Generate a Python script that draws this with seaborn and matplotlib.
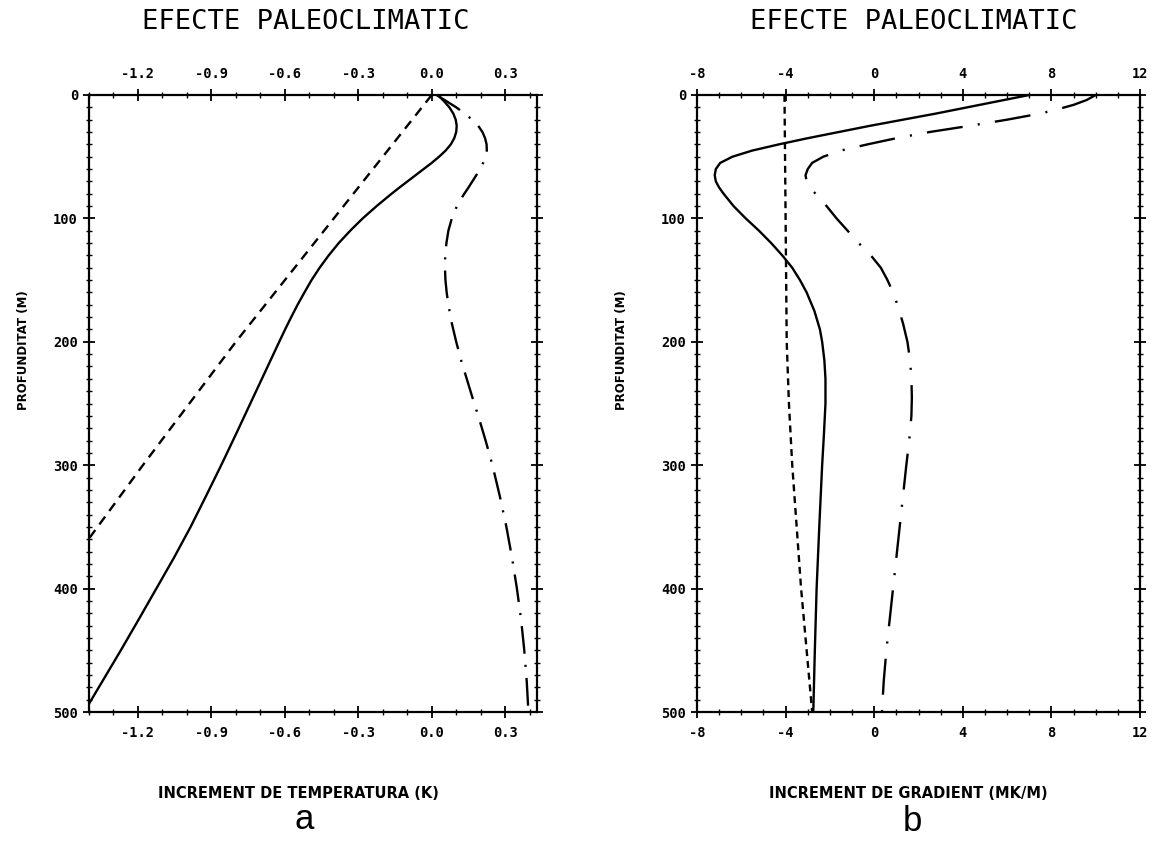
import matplotlib
matplotlib.use("Agg")
import matplotlib.pyplot as plt
import pandas as pd
import seaborn as sns
from matplotlib.font_manager import FontProperties
from matplotlib.ticker import FixedLocator, FixedFormatter, MultipleLocator

sns.set_theme(style="white")
plt.rcParams["font.family"] = ["DejaVu Sans Mono", "DejaVu Sans"]
plt.rcParams["axes.unicode_minus"] = False
plt.rcParams["lines.scale_dashes"] = False
for key in ["text.color", "axes.labelcolor", "xtick.color", "ytick.color", "axes.edgecolor"]:
    plt.rcParams[key] = "black"

# ---- panel a: temperature increment (K) against depth (m) ----
depth_a_solid = [0, 5, 10, 15, 20, 25, 30, 35, 40, 45, 50, 55, 60, 65, 70, 75,
                 80, 90, 100, 110, 120, 130, 140, 150, 160, 170, 180, 190, 200,
                 225, 250, 275, 300, 325, 350, 375, 400, 425, 450, 475, 500]
temp_solid = [0.025, 0.05, 0.072, 0.088, 0.098, 0.102, 0.10, 0.092, 0.078,
              0.057, 0.03, 0.0, -0.033, -0.066, -0.099, -0.132, -0.164,
              -0.225, -0.282, -0.333, -0.38, -0.421, -0.458, -0.491, -0.52,
              -0.548, -0.574, -0.599, -0.623, -0.682, -0.741, -0.80, -0.86,
              -0.922, -0.985, -1.053, -1.125, -1.197, -1.27, -1.345, -1.42]

depth_a_dashed = [0, 100, 200, 300, 400, 500]
temp_dashed = [0.0, -0.40, -0.80, -1.18, -1.55, -1.88]

depth_a_dashdot = [0, 5, 10, 15, 20, 25, 30, 35, 40, 45, 50, 55, 60, 65, 70,
                   75, 80, 85, 90, 100, 110, 120, 130, 140, 150, 160, 170, 185,
                   200, 215, 230, 245, 260, 280, 300, 325, 350, 375, 400, 425,
                   450, 475, 500]
temp_dashdot = [0.02, 0.06, 0.10, 0.135, 0.165, 0.19, 0.207, 0.218, 0.224,
                0.225, 0.22, 0.21, 0.197, 0.182, 0.166, 0.15, 0.133, 0.117,
                0.103, 0.082, 0.068, 0.06, 0.055, 0.054, 0.056, 0.061, 0.068,
                0.082, 0.10, 0.12, 0.143, 0.166, 0.19, 0.22, 0.248, 0.278,
                0.305, 0.328, 0.348, 0.365, 0.378, 0.388, 0.395]

# ---- panel b: gradient increment (mK/m) against depth (m) ----
depth_b_solid = [0, 5, 10, 15, 20, 25, 30, 35, 40, 45, 50, 55, 60, 65, 70, 75,
                 80, 90, 100, 110, 120, 130, 140, 150, 160, 175, 190, 200, 215,
                 230, 250, 275, 300, 350, 400, 450, 500]
grad_solid = [7.0, 5.6, 4.2, 2.8, 1.3, -0.2, -1.6, -3.0, -4.3, -5.5, -6.4,
              -6.95, -7.15, -7.2, -7.15, -7.0, -6.8, -6.35, -5.8, -5.2, -4.65,
              -4.15, -3.7, -3.35, -3.05, -2.7, -2.45, -2.35, -2.25, -2.2, -2.2,
              -2.27, -2.35, -2.48, -2.6, -2.68, -2.75]

depth_b_dashed = [0, 100, 200, 250, 300, 350, 400, 450, 500]
grad_dashed = [-4.05, -4.0, -3.95, -3.85, -3.7, -3.5, -3.3, -3.05, -2.8]

depth_b_dashdot = [0, 4, 8, 12, 15, 20, 25, 30, 35, 40, 45, 50, 55, 60, 65, 70,
                   75, 80, 90, 100, 110, 120, 130, 140, 150, 160, 170, 185, 200,
                   215, 230, 245, 260, 280, 300, 325, 350, 375, 400, 425, 450,
                   475, 500]
grad_dashdot = [10.0, 9.6, 9.0, 8.2, 7.5, 6.0, 4.3, 2.5, 1.0, -0.3, -1.5,
                -2.3, -2.8, -3.0, -3.1, -3.05, -2.9, -2.65, -2.15, -1.7, -1.2,
                -0.7, -0.15, 0.3, 0.6, 0.85, 1.05, 1.3, 1.5, 1.62, 1.68, 1.7,
                1.68, 1.58, 1.45, 1.3, 1.15, 1.0, 0.85, 0.7, 0.55, 0.43, 0.35]

temp_ticks = [-1.2, -0.9, -0.6, -0.3, 0.0, 0.3]
temp_tick_labels = ["-1.2", "-0.9", "-0.6", "-0.3", "0.0", "0.3"]
grad_ticks = [-8, -4, 0, 4, 8, 12]
grad_tick_labels = ["-8", "-4", "0", "4", "8", "12"]
depth_ticks = [0, 100, 200, 300, 400, 500]
depth_tick_labels = ["0", "100", "200", "300", "400", "500"]

title_text = "EFECTE PALEOCLIMATIC"
depth_label = "PROFUNDITAT (M)"
temp_label = "INCREMENT DE TEMPERATURA (K)"
grad_label = "INCREMENT DE GRADIENT (MK/M)"


def long_frame(parts):
    frames = []
    for name, depth, vals in parts:
        frames.append(pd.DataFrame({"depth": depth, "value": vals, "profile": name}))
    return pd.concat(frames, ignore_index=True)


df_a = long_frame([("solid", depth_a_solid, temp_solid),
                   ("dashed", depth_a_dashed, temp_dashed),
                   ("dashdot", depth_a_dashdot, temp_dashdot)])
df_b = long_frame([("solid", depth_b_solid, grad_solid),
                   ("dashed", depth_b_dashed, grad_dashed),
                   ("dashdot", depth_b_dashdot, grad_dashdot)])

W, H = 1156, 841
fig = plt.figure(figsize=(W / 100, H / 100), dpi=100)
ax_a = fig.add_axes([89 / W, 1 - 712 / H, (537 - 89) / W, (712 - 95) / H])
ax_b = fig.add_axes([697 / W, 1 - 712 / H, (1140 - 697) / W, (712 - 95) / H])

dash_a = {"solid": "", "dashed": (7, 5), "dashdot": (20, 8, 1.5, 8)}
dash_b = {"solid": "", "dashed": (5, 3.5), "dashdot": (26, 11, 1.5, 11)}

for ax, df, dmap in [(ax_a, df_a, dash_a), (ax_b, df_b, dash_b)]:
    sns.lineplot(data=df, x="value", y="depth", style="profile",
                 style_order=["solid", "dashed", "dashdot"], dashes=dmap,
                 color="black", sort=False, estimator=None, legend=False,
                 linewidth=1.7, ax=ax)
    for ln in ax.lines:
        ln.set_solid_capstyle("round")
        ln.set_solid_joinstyle("round")
        ln.set_dash_capstyle("butt")

tick_fp = FontProperties(family="DejaVu Sans Mono", weight="bold", size=9.8)
lab_font = dict(family="DejaVu Sans", weight="bold", size=10.5)
ylab_font = dict(family="DejaVu Sans", weight="bold", size=8.5)
TOP, BOTTOM = 95, 712
SPAN = BOTTOM - TOP


def style_axes(ax, left, right, xticks, xlabels, xlim, xminor, xlabel,
               xlab_px, title_px, letter, letter_px, letter_base, ylab_px):
    width = right - left
    ax.set_xlim(*xlim)
    ax.set_ylim(500, 0)
    ax.xaxis.set_major_locator(FixedLocator(xticks))
    ax.xaxis.set_major_formatter(FixedFormatter(xlabels))
    ax.xaxis.set_minor_locator(MultipleLocator(xminor))
    ax.yaxis.set_major_locator(FixedLocator(depth_ticks))
    ax.yaxis.set_major_formatter(FixedFormatter(depth_tick_labels))
    ax.yaxis.set_minor_locator(MultipleLocator(10))
    ax.tick_params(which="both", direction="inout", top=True, right=True,
                   bottom=True, left=True, labeltop=True, labelbottom=True,
                   labelleft=True, labelright=False, color="black")
    ax.tick_params(which="major", length=8, width=1.3)
    ax.tick_params(which="minor", length=4, width=1.0)
    ax.tick_params(axis="x", which="major", pad=6)
    ax.tick_params(axis="y", which="major", pad=4)
    for t in ax.xaxis.get_major_ticks() + ax.yaxis.get_major_ticks():
        t.label1.set_fontproperties(tick_fp)
        t.label2.set_fontproperties(tick_fp)
    for sp in ax.spines.values():
        sp.set_color("black")
        sp.set_linewidth(1.6)
    ax.set_xlabel(xlabel, **lab_font)
    ax.xaxis.set_label_position("bottom")
    ax.xaxis.set_label_coords((xlab_px - left) / width, (BOTTOM - 786) / SPAN)
    ax.set_ylabel(depth_label, **ylab_font)
    ax.yaxis.set_label_coords((ylab_px - left) / width, (BOTTOM - 350) / SPAN)
    ax.text((title_px - left) / width, (BOTTOM - 22) / SPAN, title_text,
            transform=ax.transAxes, ha="center", va="center",
            family="DejaVu Sans Mono", size=19.5)
    ax.text((letter_px - left) / width, (BOTTOM - letter_base) / SPAN, letter,
            transform=ax.transAxes, ha="center", va="baseline",
            family="Liberation Sans", size=25)


style_axes(ax_a, 89, 537, temp_ticks, temp_tick_labels, (-1.40, 0.43), 0.1,
           temp_label, 298, 306, "a", 304, 829, 30)
style_axes(ax_b, 697, 1140, grad_ticks, grad_tick_labels, (-8, 12), 1,
           grad_label, 908, 914, "b", 912, 831, 628)

fig.savefig("out.png", dpi=100, facecolor="white")
